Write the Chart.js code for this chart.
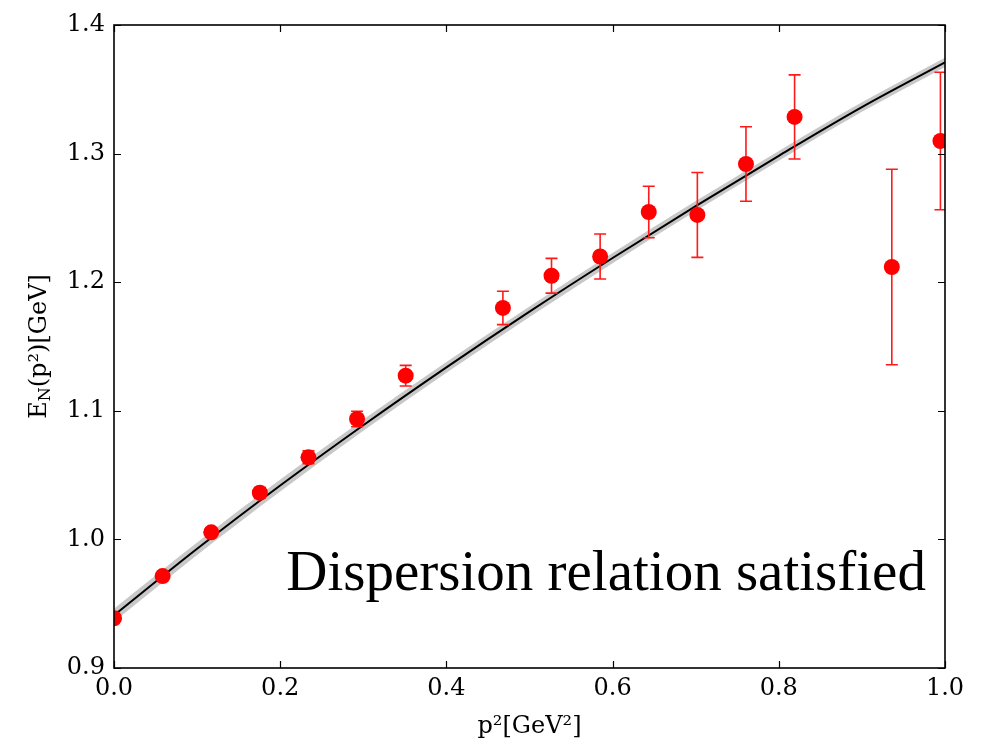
<!DOCTYPE html>
<html>
<head>
<meta charset="utf-8">
<script src="https://cdn.jsdelivr.net/npm/chart.js@4"></script>
<style>
  html, body { margin: 0; padding: 0; background: #fff; }
  #wrap { width: 991px; height: 745px; position: relative; }
</style>
</head>
<body>
<div id="wrap"><canvas id="c" width="991" height="745"></canvas></div>
<script>
// ---- data ----
const momentumSq = [0, 0.0585, 0.117, 0.1755, 0.234, 0.2925, 0.351, 0.468, 0.5265, 0.585, 0.6435, 0.702, 0.7605, 0.819, 0.936, 0.9945];
const energy     = [0.9387, 0.9715, 1.0055, 1.0363, 1.0638, 1.0936, 1.1273, 1.180, 1.205, 1.220, 1.2546, 1.2523, 1.2919, 1.3285, 1.2118, 1.3098];
const energyErr  = [0.002, 0.002, 0.003, 0.004, 0.005, 0.006, 0.008, 0.013, 0.0135, 0.0175, 0.020, 0.033, 0.029, 0.0327, 0.076, 0.0535];

const fitX     = [0, 0.1, 0.2, 0.3, 0.4, 0.5, 0.6, 0.7, 0.8, 0.9, 1.0];
const fitE     = [0.941, 0.9927, 1.0419, 1.0888, 1.1338, 1.1771, 1.2188, 1.2592, 1.2983, 1.3362, 1.3710];
const fitUpper = [0.946, 0.9975, 1.0465, 1.0932, 1.1380, 1.1812, 1.2228, 1.2631, 1.3021, 1.3399, 1.3746];
const fitLower = [0.936, 0.9879, 1.0373, 1.0844, 1.1296, 1.1730, 1.2148, 1.2553, 1.2945, 1.3325, 1.3674];

const xTicks = [0, 0.2, 0.4, 0.6, 0.8, 1.0];
const yTicks = [0.9, 1.0, 1.1, 1.2, 1.3, 1.4];
const annotation = "Dispersion relation satisfied";

const toXY = (xs, ys) => xs.map((x, i) => ({ x: x, y: ys[i] }));

const TICK_FONT = "DejaVu Serif";

const framePlugin = {
  id: 'frame',
  beforeDatasetDraw(chart, args) {
    if (args.index !== 3) return;
    const { ctx, chartArea: a } = chart;
    const xs = chart.scales.x, ys = chart.scales.y;
    ctx.save();
    ctx.beginPath();
    ctx.rect(a.left, a.top, a.right - a.left, a.bottom - a.top);
    ctx.clip();
    ctx.strokeStyle = '#ff1a1a';
    ctx.lineWidth = 1.6;
    momentumSq.forEach((x, i) => {
      const px = xs.getPixelForValue(x);
      const pTop = ys.getPixelForValue(energy[i] + energyErr[i]);
      const pBot = ys.getPixelForValue(energy[i] - energyErr[i]);
      ctx.beginPath();
      ctx.moveTo(px, pTop); ctx.lineTo(px, pBot);
      ctx.moveTo(px - 6, pTop); ctx.lineTo(px + 6, pTop);
      ctx.moveTo(px - 6, pBot); ctx.lineTo(px + 6, pBot);
      ctx.stroke();
    });
    ctx.restore();
  },
  afterDraw(chart) {
    const { ctx, chartArea: a } = chart;
    const xs = chart.scales.x, ys = chart.scales.y;
    ctx.save();
    // annotation text
    ctx.fillStyle = '#000';
    ctx.font = '57px "Liberation Serif"';
    ctx.textAlign = 'right';
    ctx.textBaseline = 'alphabetic';
    ctx.fillText(annotation, xs.getPixelForValue(0.977), ys.getPixelForValue(0.9607));

    // frame
    ctx.strokeStyle = '#000';
    ctx.lineWidth = 1.6;
    ctx.strokeRect(a.left, a.top, a.right - a.left, a.bottom - a.top);
    // inward ticks
    ctx.lineWidth = 1.2;
    const L = 7;
    ctx.beginPath();
    xTicks.forEach(v => {
      const px = Math.round(xs.getPixelForValue(v)) + 0.5;
      ctx.moveTo(px, a.bottom); ctx.lineTo(px, a.bottom - L);
      ctx.moveTo(px, a.top); ctx.lineTo(px, a.top + L);
    });
    yTicks.forEach(v => {
      const py = Math.round(ys.getPixelForValue(v)) + 0.5;
      ctx.moveTo(a.left, py); ctx.lineTo(a.left + L, py);
      ctx.moveTo(a.right, py); ctx.lineTo(a.right - L, py);
    });
    ctx.stroke();

    // y axis title with subscript N
    ctx.translate(40, (a.top + a.bottom) / 2);
    ctx.rotate(-Math.PI / 2);
    const big = '24px "' + TICK_FONT + '"';
    const small = '16px "' + TICK_FONT + '"';
    const parts = [
      { t: 'E', f: big, dy: 0 },
      { t: 'N', f: small, dy: 6 },
      { t: '(p²)[GeV]', f: big, dy: 0 }
    ];
    let total = 0;
    parts.forEach(p => { ctx.font = p.f; p.w = ctx.measureText(p.t).width; total += p.w; });
    let cx = -total / 2;
    ctx.textAlign = 'left';
    ctx.textBaseline = 'middle';
    parts.forEach(p => { ctx.font = p.f; ctx.fillText(p.t, cx, p.dy); cx += p.w; });
    ctx.restore();
  }
};

new Chart(document.getElementById('c'), {
  type: 'scatter',
  data: {
    datasets: [
      { type: 'line', label: 'upper', data: toXY(fitX, fitUpper), borderWidth: 0, pointRadius: 0, order: 3,
        backgroundColor: 'rgba(200,200,200,1)', fill: '+1', cubicInterpolationMode: 'monotone', clip: 0 },
      { type: 'line', label: 'lower', data: toXY(fitX, fitLower), borderWidth: 0, pointRadius: 0, order: 4,
        fill: false, cubicInterpolationMode: 'monotone', clip: 0 },
      { type: 'line', label: 'fit', data: toXY(fitX, fitE), borderColor: '#000', borderWidth: 2, pointRadius: 0, order: 2,
        fill: false, cubicInterpolationMode: 'monotone', clip: 0 },
      { type: 'scatter', label: 'data', data: toXY(momentumSq, energy), backgroundColor: '#ff0000', order: 1,
        borderWidth: 0, pointRadius: 8, pointHoverRadius: 8, clip: 0 }
    ]
  },
  options: {
    responsive: false,
    animation: false,
    events: [],
    layout: { padding: { left: 0, right: 46, top: 25, bottom: 0 } },
    plugins: { legend: { display: false }, tooltip: { enabled: false } },
    scales: {
      x: {
        type: 'linear', min: 0, max: 1,
        afterBuildTicks(s) { s.ticks = xTicks.map(v => ({ value: v })); },
        afterFit(s) { s.height = 77; },
        grid: { display: false, drawTicks: false },
        border: { display: false },
        ticks: { color: '#000', padding: 6, font: { family: TICK_FONT, size: 24 },
                 callback: v => Number(v).toFixed(1), maxRotation: 0 },
        title: { display: true, text: 'p²[GeV²]', color: '#000', font: { family: TICK_FONT, size: 24 },
                 padding: { top: 0, bottom: 4 } }
      },
      y: {
        type: 'linear', min: 0.9, max: 1.4,
        afterBuildTicks(s) { s.ticks = yTicks.map(v => ({ value: v })); },
        afterFit(s) { s.width = 114; },
        grid: { display: false, drawTicks: false },
        border: { display: false },
        ticks: { color: '#000', padding: 9, font: { family: TICK_FONT, size: 24 },
                 callback: v => Number(v).toFixed(1) }
      }
    }
  },
  plugins: [framePlugin]
});
</script>
</body>
</html>
